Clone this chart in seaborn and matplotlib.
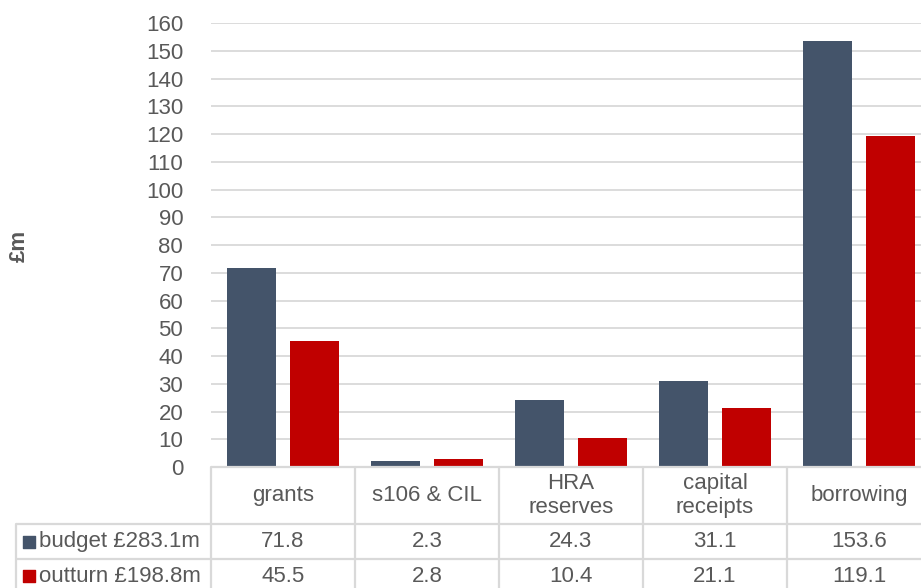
import matplotlib
matplotlib.use("Agg")
import matplotlib.pyplot as plt
import seaborn as sns
import pandas as pd

# Funding sources for the capital programme (£m)
categories = ["grants", "s106 & CIL", "HRA reserves", "capital receipts", "borrowing"]
header_labels = ["grants", "s106 & CIL", "HRA\nreserves", "capital\nreceipts", "borrowing"]
series_names = ["budget £283.1m", "outturn £198.8m"]
budget = [71.8, 2.3, 24.3, 31.1, 153.6]
outturn = [45.5, 2.8, 10.4, 21.1, 119.1]
y_ticks = list(range(0, 161, 10))

colors = ["#44546A", "#C00000"]
text_color = "#595959"
line_color = "#D9D9D9"

sns.set_style("white")
plt.rcParams["font.family"] = ["Liberation Sans", "DejaVu Sans"]

df = pd.DataFrame({
    "source": categories * 2,
    "series": [series_names[0]] * len(categories) + [series_names[1]] * len(categories),
    "value": budget + outturn,
})

W, H = 921, 588
fig = plt.figure(figsize=(W / 100, H / 100), dpi=100)

# plot area: x from 211 px, one category = 144 px
cat_px = 144
left_px, top_px, bottom_px = 211, 23, 467
ax = fig.add_axes([left_px / W, 1 - bottom_px / H,
                   5 * cat_px / W, (bottom_px - top_px) / H])

sns.barplot(data=df, x="source", y="value", hue="series", order=categories,
            hue_order=series_names, palette=colors, saturation=1,
            width=0.876, gap=0.228, legend=False, ax=ax, edgecolor="none")

ax.set_xlim(-0.5, 4.5)
ax.set_ylim(0, 160)
ax.set_yticks(y_ticks)
ax.set_yticklabels([str(t) for t in y_ticks])
ax.tick_params(axis="y", length=0, pad=20, labelsize=16, labelcolor=text_color)
ax.set_xticks([])
ax.set_xlabel("")
ax.set_ylabel("")
ax.yaxis.grid(True, color=line_color, linewidth=1.3)
ax.set_axisbelow(True)
for s in ax.spines.values():
    s.set_visible(False)

fig.text(19 / W, 1 - 246 / H, "£m", rotation=90, ha="center", va="center",
         fontsize=16, fontweight="bold", color=text_color)

# data table under the plot, sharing the category scale
table_left_px = 16
table_h_px = 126
tax = fig.add_axes([table_left_px / W, 1 - (bottom_px + table_h_px) / H,
                    (left_px + 5 * cat_px - table_left_px) / W, table_h_px / H])
x_left = -0.5 - (left_px - table_left_px) / cat_px
tax.set_xlim(x_left, 4.5)
tax.set_ylim(table_h_px, 0)
tax.axis("off")

row_edges = [0, 57, 92, table_h_px]
lw = 1.6
tax.plot([-0.5, 4.5], [0, 0], color=line_color, lw=lw, solid_capstyle="butt", clip_on=False)
for yy in row_edges[1:3]:
    tax.plot([x_left, 4.5], [yy, yy], color=line_color, lw=lw, solid_capstyle="butt", clip_on=False)
tax.plot([x_left, x_left], [row_edges[1], table_h_px], color=line_color, lw=lw, clip_on=False)
for i in range(len(categories) + 1):
    xx = i - 0.5
    tax.plot([xx, xx], [0, table_h_px], color=line_color, lw=lw, clip_on=False)

fs = 16
for i, lab in enumerate(header_labels):
    tax.text(i, (row_edges[0] + row_edges[1]) / 2, lab, ha="center", va="center",
             fontsize=fs, color=text_color, linespacing=1.2)

rows = [budget, outturn]
for r, (vals, name, col) in enumerate(zip(rows, series_names, colors)):
    yc = (row_edges[r + 1] + row_edges[r + 2]) / 2
    for i, v in enumerate(vals):
        tax.text(i, yc, f"{v:.1f}", ha="center", va="center", fontsize=fs, color=text_color)
    key_x = x_left + 13 / cat_px
    tax.scatter([key_x], [yc], marker="s", s=11 ** 2 * 0.52, color=col, clip_on=False)
    tax.text(x_left + 23 / cat_px, yc, name, ha="left", va="center", fontsize=fs, color=text_color)

fig.savefig("out.png", dpi=100)
